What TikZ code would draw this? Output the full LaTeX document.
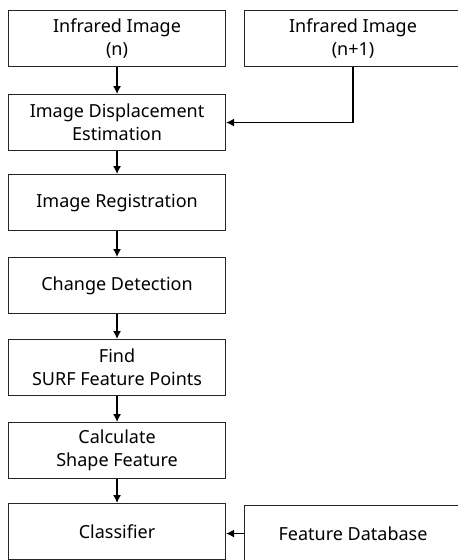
\documentclass[tikz,border=0pt]{standalone}
\usepackage{fontspec}
\setmainfont{Noto Sans}
\usetikzlibrary{arrows.meta}
\begin{document}
\begin{tikzpicture}[line cap=butt,line join=miter,>={Latex[length=8pt,width=8pt]},x=1pt,y=-1pt,font=\fontsize{18}{23}\selectfont]
	\tikzset{box/.style={draw=black!85,line width=1.1pt,minimum width=217pt,minimum height=56pt,
			inner sep=0pt,align=center,anchor=north west},
		link/.style={->,line width=1.2pt}}
	\useasboundingbox (0,0) rectangle (458,560);
	\clip (0,0) rectangle (458,560);
	\node[box] (irn) at (8,10) {Infrared Image\\(n)};
	\node[box] (irm) at (244,10) {Infrared Image\\(n+1)};
	\node[box] (ide) at (8,94) {Image Displacement\\Estimation};
	\node[box] (reg) at (8,174) {Image Registration};
	\node[box] (chg) at (8,257) {Change Detection};
	\node[box] (surf) at (8,339) {Find\\SURF Feature Points};
	\node[box] (shp) at (8,422) {Calculate\\Shape Feature};
	\node[box] (cls) at (8,503) {Classifier};
	\node[box] (fdb) at (244,505) {Feature Database};
	\foreach \a/\b in {irn/ide,ide/reg,reg/chg,chg/surf,surf/shp,shp/cls}{
		\draw[link] (\a) -- (\b);}
	\draw[link] (irm.south) |- (ide.east);
	\draw[link] (fdb.west) -- (fdb.west -| cls.east);
\end{tikzpicture}
\end{document}
